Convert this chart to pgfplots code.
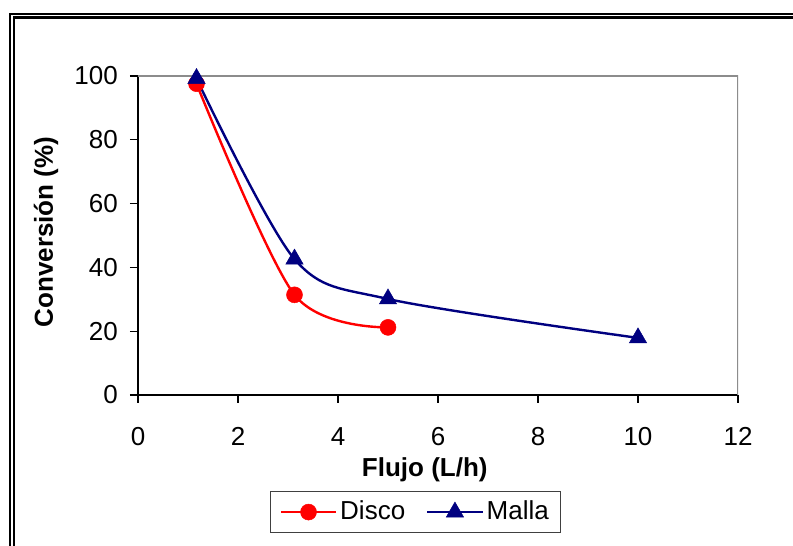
\documentclass[border=0pt]{standalone}
\usepackage{pgfplots}
\pgfplotsset{compat=1.18}
\usepackage{fontspec}
\setmainfont{Liberation Sans}
\definecolor{navy}{RGB}{0,0,128}
\definecolor{framegray}{RGB}{140,140,140}
\newcommand{\bigf}{\fontsize{26}{30}\selectfont}
\begin{document}
\bigf
\begin{tikzpicture}[x=1pt,y=1pt]
\useasboundingbox (0,0) rectangle (793,546);
\fill[white] (0,0) rectangle (793,546);
\draw[line width=2.4pt] (10,-100) rectangle (900,532.2);
\draw[line width=2.2pt] (13.9,-100) rectangle (900,528.4);
\begin{axis}[
  at={(138pt,151pt)}, anchor=south west,
  scale only axis, width=600pt, height=319pt,
  xmin=0, xmax=12, ymin=0, ymax=100,
  xtick={0,2,...,12}, ytick={0,20,...,100},
  axis x line*=bottom, axis y line*=left,
  axis line style={black, line width=1.3pt},
  tick align=outside, major tick length=8pt,
  tick style={black, line width=1.2pt},
  minor tick num=0,
  /pgf/number format/assume math mode=true,
  ticklabel style={font=\bigf, inner sep=0pt},
  xticklabel style={anchor=base, yshift=-43pt},
  yticklabel style={anchor=east, xshift=-12pt},
  xlabel={\bigf\bfseries Flujo (L/h)},
  ylabel={\bigf\bfseries Conversión (\%)},
  label style={font=\bigf, inner sep=0pt},
  xlabel style={at={(axis description cs:0.478,-0.254)}, anchor=base},
  ylabel style={at={(axis description cs:-0.1417,0.511)}, anchor=base, rotate=0},
  legend columns=2,
  legend style={at={(axis description cs:0.463,-0.367)}, anchor=center,
    draw=black!75, line width=1.3pt, font=\bigf,
    inner xsep=9pt, inner ysep=6pt,
    /tikz/every even column/.append style={column sep=18pt},
    nodes={inner sep=3pt}},
  legend image code/.code={
    \draw[#1, mark repeat=2, mark phase=2] plot coordinates {(0pt,0pt) (27.5pt,0pt) (55pt,0pt)};
  },
]
\addplot[red, line width=2.4pt, smooth, tension=0.5, mark=*, mark size=8pt, mark options={solid, line width=0.5pt}]
  coordinates {(1.17,97.6) (3.13,31.4) (5,21.2)};
\addlegendentry{Disco}
\addplot[navy, line width=2.4pt, smooth, tension=0.5, mark=triangle*, mark size=10pt, mark options={solid, line width=0.5pt}]
  coordinates {(1.17,99.2) (3.13,42.6) (5,30.1) (10,17.9)};
\addlegendentry{Malla}
\draw[framegray, line width=2.6pt] (rel axis cs:0,1) -- (rel axis cs:1,1) -- (rel axis cs:1,0);
\end{axis}
\end{tikzpicture}
\end{document}
